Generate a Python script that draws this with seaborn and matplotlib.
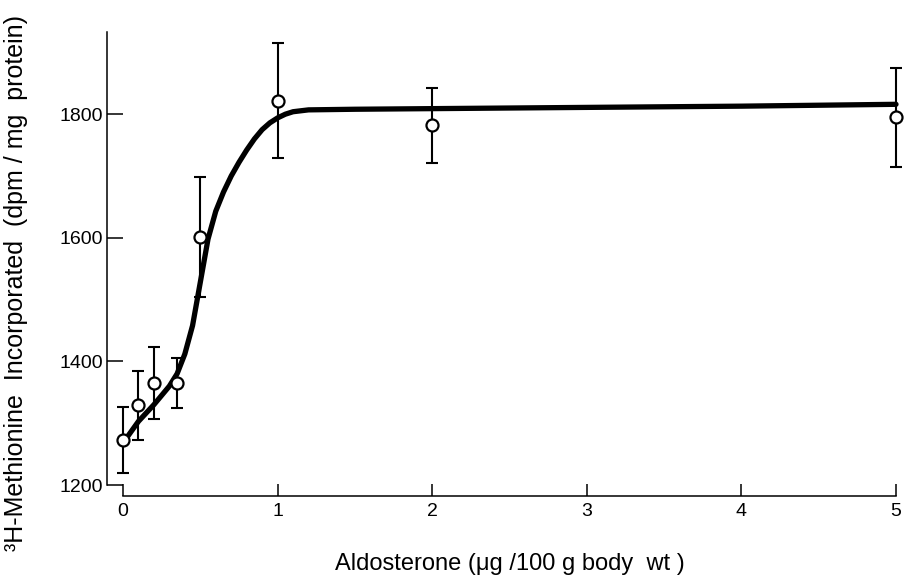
import matplotlib
matplotlib.use("Agg")
import matplotlib.pyplot as plt
import seaborn as sns
import pandas as pd

# Measured incorporation (mean and half-range of error bar) per aldosterone dose
dose = [0.0, 0.1, 0.2, 0.35, 0.5, 1.0, 2.0, 5.0]
incorporation = [1273, 1329, 1365, 1365, 1601, 1822, 1782, 1795]
error = [53, 56, 58, 40, 97, 93, 61, 80]

# Dose-response curve drawn through the data
curve_dose = [0.0, 0.1, 0.2, 0.3, 0.35, 0.4, 0.45, 0.5, 0.55, 0.6, 0.65, 0.7,
              0.75, 0.8, 0.85, 0.9, 0.95, 1.0, 1.05, 1.1, 1.2, 1.5, 2.0, 3.0, 4.0, 5.0]
curve_value = [1268, 1303, 1330, 1360, 1380, 1412, 1458, 1528, 1598, 1643, 1674, 1700,
               1722, 1742, 1760, 1775, 1786, 1794, 1800, 1804, 1807, 1808, 1809, 1811, 1813, 1816]

x_ticks = [0, 1, 2, 3, 4, 5]
y_ticks = [1200, 1400, 1600, 1800]

points = pd.DataFrame({"dose": dose, "value": incorporation, "err": error})
curve = pd.DataFrame({"dose": curve_dose, "value": curve_value})

sns.set_theme(style="ticks")
plt.rcParams["font.family"] = ["Liberation Sans", "DejaVu Sans"]

fig = plt.figure(figsize=(9.05, 5.76), dpi=100)
ax = fig.add_axes([123 / 905, 91 / 576, (896 - 123) / 905, (485 - 32) / 576])

sns.lineplot(data=curve, x="dose", y="value", ax=ax, color="black",
             linewidth=3.8, zorder=2, clip_on=False)
ax.errorbar(points["dose"], points["value"], yerr=points["err"], fmt="none",
            ecolor="black", elinewidth=1.5, capsize=4.5, capthick=1.5,
            zorder=3, clip_on=False)
sns.scatterplot(data=points, x="dose", y="value", ax=ax, marker="o", s=75,
                facecolor="white", edgecolor="black", linewidth=1.6,
                zorder=4, clip_on=False)

ax.set_xlim(0, 5)
ax.set_ylim(1200, 1933)
ax.set_xticks(x_ticks)
ax.set_xticklabels([str(t) for t in x_ticks])
ax.set_yticks(y_ticks)
ax.set_yticklabels([str(t) for t in y_ticks])

sns.despine(ax=ax)
ax.spines["left"].set_position(("outward", 11.5))
ax.spines["bottom"].set_position(("outward", 8))
ax.spines["left"].set_bounds(1200, 1933)
ax.spines["bottom"].set_bounds(0, 5)
for side in ("left", "bottom"):
    ax.spines[side].set_linewidth(1.1)
    ax.spines[side].set_color("black")

ax.tick_params(axis="y", direction="in", length=11.5, width=1.1,
               pad=3, labelsize=14, colors="black")
ax.tick_params(axis="x", direction="in", length=9, width=1.1,
               pad=5, labelsize=14, colors="black")

ax.set_xlabel("Aldosterone (μg /100 g body  wt )", fontsize=17, labelpad=24,
              color="black")
ax.set_ylabel("³H-Methionine  Incorporated  (dpm / mg  protein)", fontsize=18,
              color="black", va="center")
ax.yaxis.set_label_coords(-0.138, 0.446)

fig.savefig("out.png", dpi=100)
